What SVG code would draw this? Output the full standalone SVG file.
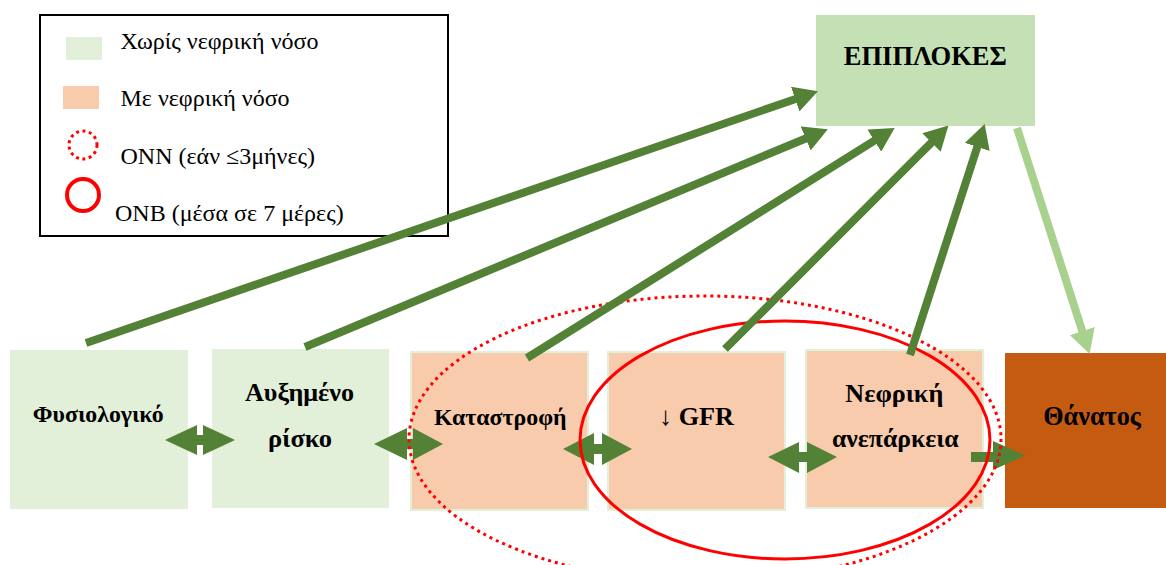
<svg xmlns="http://www.w3.org/2000/svg" width="1166" height="565" viewBox="0 0 1166 565">
<style>
.lg{font-family:"Liberation Serif","Times New Roman",serif;font-size:24px;fill:#000}
.nd{font-family:"Liberation Serif","Times New Roman",serif;font-weight:bold;fill:#000;text-anchor:middle}
.gbox{fill:#e2efd9}
.obox{fill:#f8cbad;stroke:#e2efd9;stroke-width:2}
.dg{stroke:#538135;stroke-width:8;fill:none}
.lgt{stroke:#a9d18e;stroke-width:8;fill:none}
.harr{fill:#538135}
</style>
<defs>
<marker id="ah" markerUnits="userSpaceOnUse" markerWidth="24" markerHeight="26" viewBox="0 0 24 26" refX="2" refY="13" orient="auto"><path d="M0,0 L24,13 L0,26 z" fill="#538135"/></marker>
<marker id="ahl" markerUnits="userSpaceOnUse" markerWidth="24" markerHeight="26" viewBox="0 0 24 26" refX="2" refY="13" orient="auto"><path d="M0,0 L24,13 L0,26 z" fill="#a9d18e"/></marker>
</defs>
<rect width="1166" height="565" fill="#fff"/>
<g id="legend">
<rect x="40" y="15" width="408" height="221" fill="#fff" stroke="#000" stroke-width="2"/>
<rect x="66" y="37" width="36" height="23" fill="#e2efd9"/>
<rect x="63" y="86" width="36" height="23" fill="#f8cbad"/>
<circle cx="83" cy="145" r="14" fill="none" stroke="#ff0000" stroke-width="3" stroke-dasharray="3 3.5"/>
<circle cx="83" cy="195" r="16" fill="none" stroke="#ff0000" stroke-width="4"/>
<text class="lg" x="120.5" y="48.5">Χωρίς νεφρική νόσο</text>
<text class="lg" x="120.5" y="105.5">Με νεφρική νόσο</text>
<text class="lg" x="120.5" y="163.5">ONN (εάν ≤3μήνες)</text>
<text class="lg" x="115" y="220.5">ONB (μέσα σε 7 μέρες)</text>
</g>
<g id="n-epiplokes">
<rect x="816" y="15" width="219" height="111" fill="#c5e0b4"/>
<text class="nd" x="925.3" y="65" font-size="27" textLength="163" lengthAdjust="spacingAndGlyphs">ΕΠΙΠΛΟΚΕΣ</text>
</g>
<g id="n-fysiologiko">
<rect class="gbox" x="10" y="350" width="178" height="159"/>
<text class="nd" x="98.3" y="422" font-size="23" textLength="131" lengthAdjust="spacingAndGlyphs">Φυσιολογικό</text>
</g>
<g id="n-auxhmeno">
<rect class="gbox" x="212" y="349" width="177" height="159"/>
<text class="nd" x="299.5" y="400.5" font-size="25" textLength="109" lengthAdjust="spacingAndGlyphs">Αυξημένο</text>
<text class="nd" x="300" y="447" font-size="25" textLength="64" lengthAdjust="spacingAndGlyphs">ρίσκο</text>
</g>
<g id="n-katastrofi">
<rect class="obox" x="411" y="352" width="177" height="158"/>
<text class="nd" x="500.3" y="425" font-size="24" textLength="132.7" lengthAdjust="spacingAndGlyphs">Καταστροφή</text>
</g>
<g id="n-gfr">
<rect class="obox" x="608" y="352" width="177" height="158"/>
<text class="nd" x="696.5" y="425" font-size="26" textLength="75" lengthAdjust="spacingAndGlyphs">↓ GFR</text>
</g>
<g id="n-nefriki">
<rect class="obox" x="806" y="350" width="177" height="158"/>
<text class="nd" x="894.3" y="402" font-size="26" textLength="98" lengthAdjust="spacingAndGlyphs">Νεφρική</text>
<text class="nd" x="895.3" y="446.5" font-size="26" textLength="126.7" lengthAdjust="spacingAndGlyphs">ανεπάρκεια</text>
</g>
<g id="n-thanatos">
<rect x="1005" y="353" width="161" height="155" fill="#c55a11"/>
<text class="nd" x="1092" y="425" font-size="27" textLength="97.7" lengthAdjust="spacingAndGlyphs">Θάνατος</text>
</g>
<g id="connectors">
<polygon class="harr" points="165,440 197,425 197,435 203,435 203,425 235,440 203,455 203,445 197,445 197,455"/>
<polygon class="harr" points="374,444 407,428 407,439 413,439 413,428 443,444 413,460 413,449 407,449 407,460"/>
<polygon class="harr" points="563,449 594,433 594,444 602,444 602,433 632,449 602,465 602,454 594,454 594,465"/>
<polygon class="harr" points="768,457 799,442 799,452 807,452 807,442 837,457 807,473 807,462 799,462 799,473"/>
<polygon class="harr" points="971,452 993,452 993,441 1025,455.5 993,470 993,462 971,462"/>
</g>
<g id="regions">
<ellipse cx="705" cy="439" rx="296" ry="143" fill="none" stroke="#ff0000" stroke-width="3" stroke-dasharray="3 4"/>
<ellipse cx="785" cy="440" rx="205" ry="119" fill="none" stroke="#ff0000" stroke-width="3"/>
</g>
<g id="connectors-up">
<line class="dg" x1="86" y1="343" x2="797.1" y2="98.5" marker-end="url(#ah)"/>
<line class="dg" x1="305" y1="347" x2="807.5" y2="137.7" marker-end="url(#ah)"/>
<line class="dg" x1="527" y1="358" x2="876" y2="139.6" marker-end="url(#ah)"/>
<line class="dg" x1="725" y1="349" x2="932.9" y2="141.1" marker-end="url(#ah)"/>
<line class="dg" x1="910" y1="355" x2="977.9" y2="145" marker-end="url(#ah)"/>
<line class="lgt" x1="1017" y1="128" x2="1082.9" y2="333" marker-end="url(#ahl)"/>
</g>
</svg>
